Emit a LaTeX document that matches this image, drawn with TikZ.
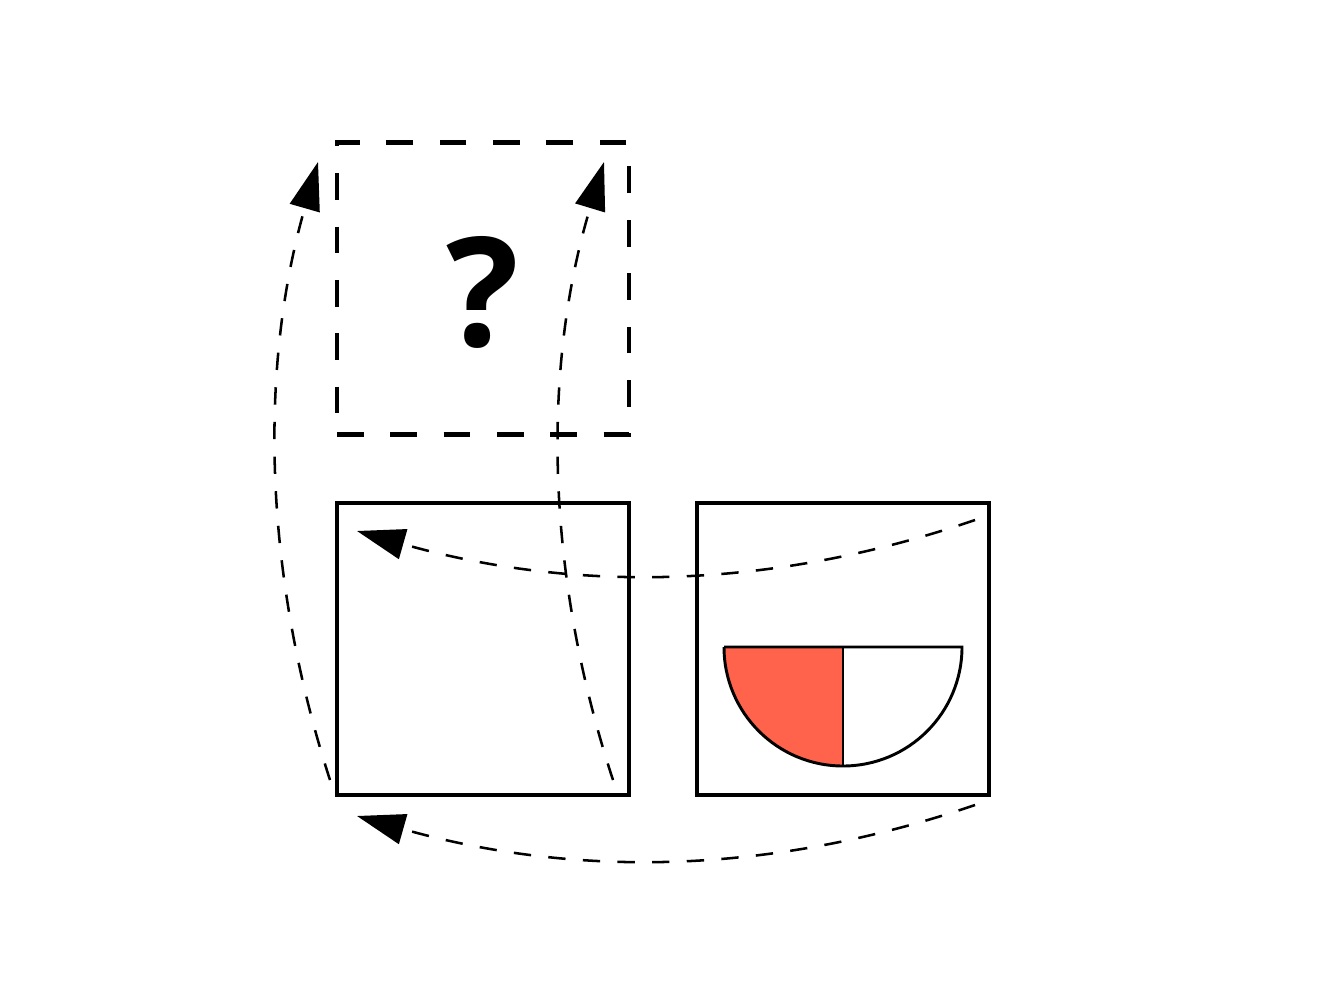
\documentclass[tikz,border=0pt]{standalone}
\usepackage{fontspec}
\setmainfont{Open Sans}
\usetikzlibrary{arrows.meta}
\definecolor{tomatoc}{RGB}{255,99,75}
\begin{document}
\begin{tikzpicture}[x=0.75pt,y=-0.75pt,
  box/.style={draw,line width=3.6pt,minimum size=219pt,inner sep=0pt,outer sep=0pt},
  qbox/.style={box,dash pattern=on 20pt off 20pt},
  link/.style={line width=1.9pt,dash pattern=on 13pt off 13pt,
    -{Triangle[length=36pt,width=23pt]}}]
\useasboundingbox (0,0) rectangle (1334,1002);
\node[qbox] (q) at (483,288.5) {};
\node[inner sep=0pt,font=\fontsize{114}{114}\selectfont\bfseries] (qm) at (483,292) {?};
\node[box] (a) at (483,649) {};
\node[box] (b) at (843,649) {};
% semicircle
\fill[tomatoc] (724,647) -- (843,647) -- (843,766) arc[start angle=90,end angle=180,radius=119] -- cycle;
\draw[line width=2.2pt] (724,647) -- (962,647) arc[start angle=0,end angle=180,radius=119];
\draw[line width=2.2pt] (843,647) -- (843,766);
% connector end points
\coordinate (b1) at (975,520);
\coordinate (a1) at (357,531);
\coordinate (b2) at (975,805);
\coordinate (a2) at (357,816);
\coordinate (a3) at (330,780);
\coordinate (q3) at (318,162);
\coordinate (a4) at (613,780);
\coordinate (q4) at (604,162);
\draw[link] (b1) .. controls (770,590) and (575,593) .. (a1);
\draw[link] (b2) .. controls (770,875) and (575,878) .. (a2);
\draw[link] (a3) .. controls (263,573) and (259,367) .. (q3);
\draw[link] (a4) .. controls (545,573) and (542,367) .. (q4);
\end{tikzpicture}
\end{document}
